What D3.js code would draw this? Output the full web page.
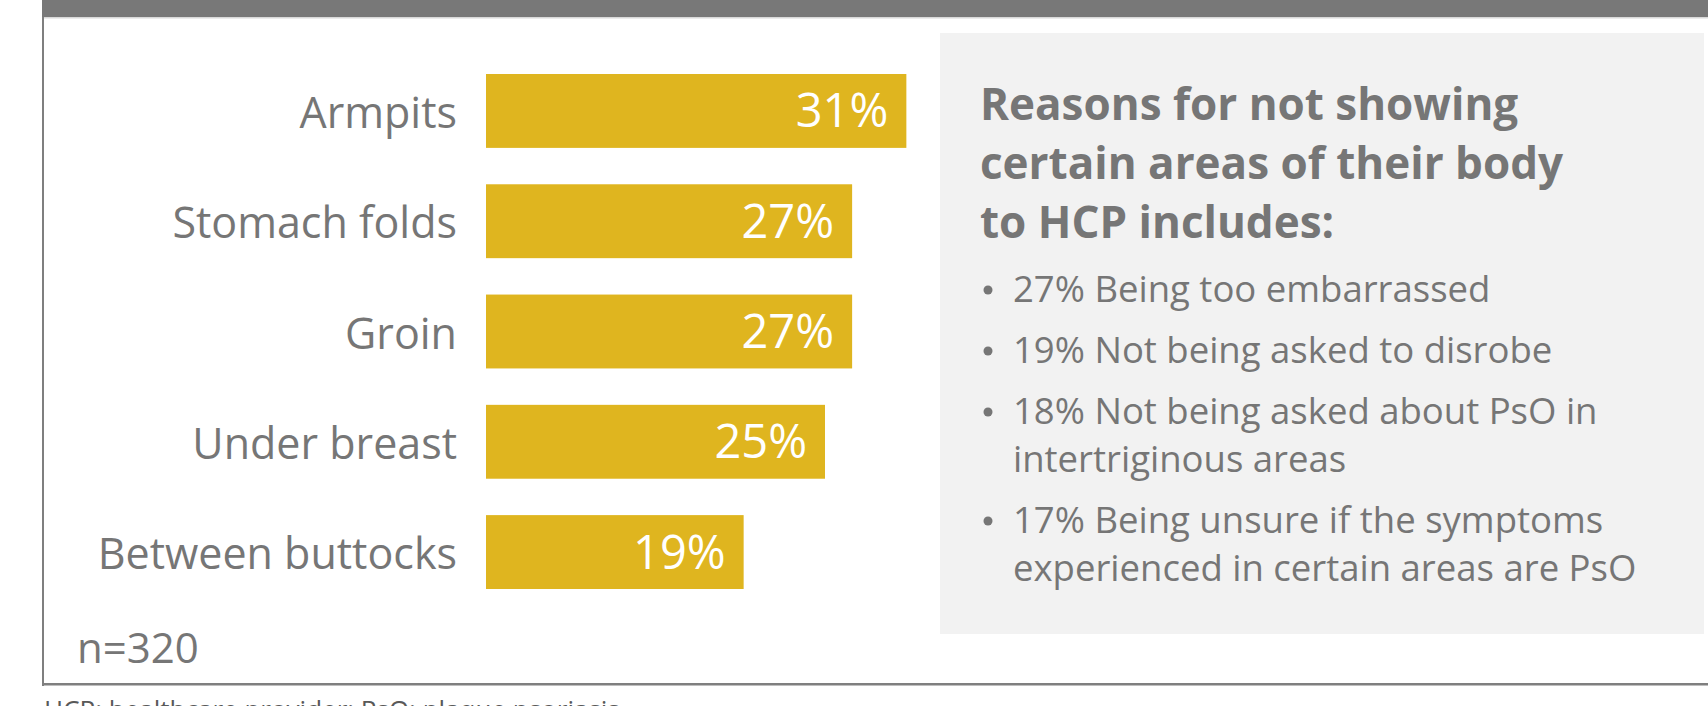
<!DOCTYPE html>
<html>
<head>
<meta charset="utf-8">
<script src="https://cdn.jsdelivr.net/npm/d3@7"></script>
<style>
  html, body { margin: 0; padding: 0; background: #ffffff; overflow: hidden; }
  svg { display: block; font-family: "Open Sans", sans-serif; }
</style>
</head>
<body>
<svg id="chart" width="1708" height="706"></svg>
<script>
// ---- data ----
const categories = ["Armpits", "Stomach folds", "Groin", "Under breast", "Between buttocks"];
const values = [31, 27, 27, 25, 19];
const sampleLabel = "n=320";
const headingLines = ["Reasons for not showing", "certain areas of their body", "to HCP includes:"];
const reasons = [
  ["27% Being too embarrassed"],
  ["19% Not being asked to disrobe"],
  ["18% Not being asked about PsO in", "intertriginous areas"],
  ["17% Being unsure if the symptoms", "experienced in certain areas are PsO"]
];
const footnote = "HCP: healthcare provider; PsO: plaque psoriasis";

// ---- styles ----
const barColor = "#DFB51F";
const textColor = "#767676";
const frameColor = "#7F7F7F";

const svg = d3.select("#chart");

// frame
svg.append("rect").attr("x", 42).attr("y", 0).attr("width", 1666).attr("height", 17).attr("fill", "#787878");
svg.append("rect").attr("x", 44).attr("y", 17).attr("width", 1664).attr("height", 1.5).attr("fill", "#D9D9D9");
svg.append("rect").attr("x", 42).attr("y", 17).attr("width", 2).attr("height", 669).attr("fill", frameColor);
svg.append("rect").attr("x", 42).attr("y", 683).attr("width", 1666).attr("height", 2.5).attr("fill", frameColor);

// scales
const y = d3.scaleBand().domain(categories).range([74, 589]).paddingInner(0.33).paddingOuter(0);
const x = d3.scaleLinear().domain([0, 100]).range([486, 486 + 1356]);

// bars
const g = svg.append("g");
g.selectAll("rect.bar").data(categories).join("rect")
  .attr("class", "bar")
  .attr("x", x(0))
  .attr("y", d => y(d))
  .attr("width", (d, i) => x(values[i]) - x(0))
  .attr("height", y.bandwidth())
  .attr("fill", barColor);

// category labels (axis-like)
const yAxis = d3.axisLeft(y).tickSize(0).tickPadding(0);
const axisG = svg.append("g").attr("transform", `translate(${x(0) - 29},0)`).call(yAxis);
axisG.select(".domain").remove();
axisG.selectAll("text")
  .attr("font-family", "Open Sans")
  .attr("font-size", 43)
  .attr("fill", textColor)
  .attr("dy", null)
  .attr("y", 17);

// value labels
g.selectAll("text.val").data(categories).join("text")
  .attr("class", "val")
  .attr("x", (d, i) => x(values[i]) - 18)
  .attr("y", d => y(d) + y.bandwidth() / 2 + 16.5)
  .attr("text-anchor", "end")
  .attr("font-size", 47)
  .attr("fill", "#ffffff")
  .text((d, i) => values[i] + "%");

// n label
svg.append("text").attr("x", 77).attr("y", 663)
  .attr("font-size", 42).attr("fill", textColor).text(sampleLabel);

// right panel
svg.append("rect").attr("x", 940).attr("y", 33).attr("width", 764).attr("height", 601).attr("fill", "#F2F2F2");

const heading = svg.append("text").attr("font-size", 44).attr("font-weight", 700).attr("fill", textColor);
headingLines.forEach((t, i) => {
  heading.append("tspan").attr("x", 980).attr("y", 120 + i * 59).text(t);
});

const itemY = [302, 363, 424, 533];
reasons.forEach((lines, i) => {
  svg.append("circle").attr("cx", 988).attr("cy", itemY[i] - 12).attr("r", 4.5).attr("fill", textColor);
  lines.forEach((t, j) => {
    svg.append("text").attr("x", 1013).attr("y", itemY[i] + j * 48)
      .attr("font-size", 36.5).attr("fill", textColor).text(t);
  });
});

// footnote (cut by bottom edge)
svg.append("text").attr("x", 44).attr("y", 719)
  .attr("font-size", 26).attr("fill", "#595959").text(footnote);
</script>
</body>
</html>
